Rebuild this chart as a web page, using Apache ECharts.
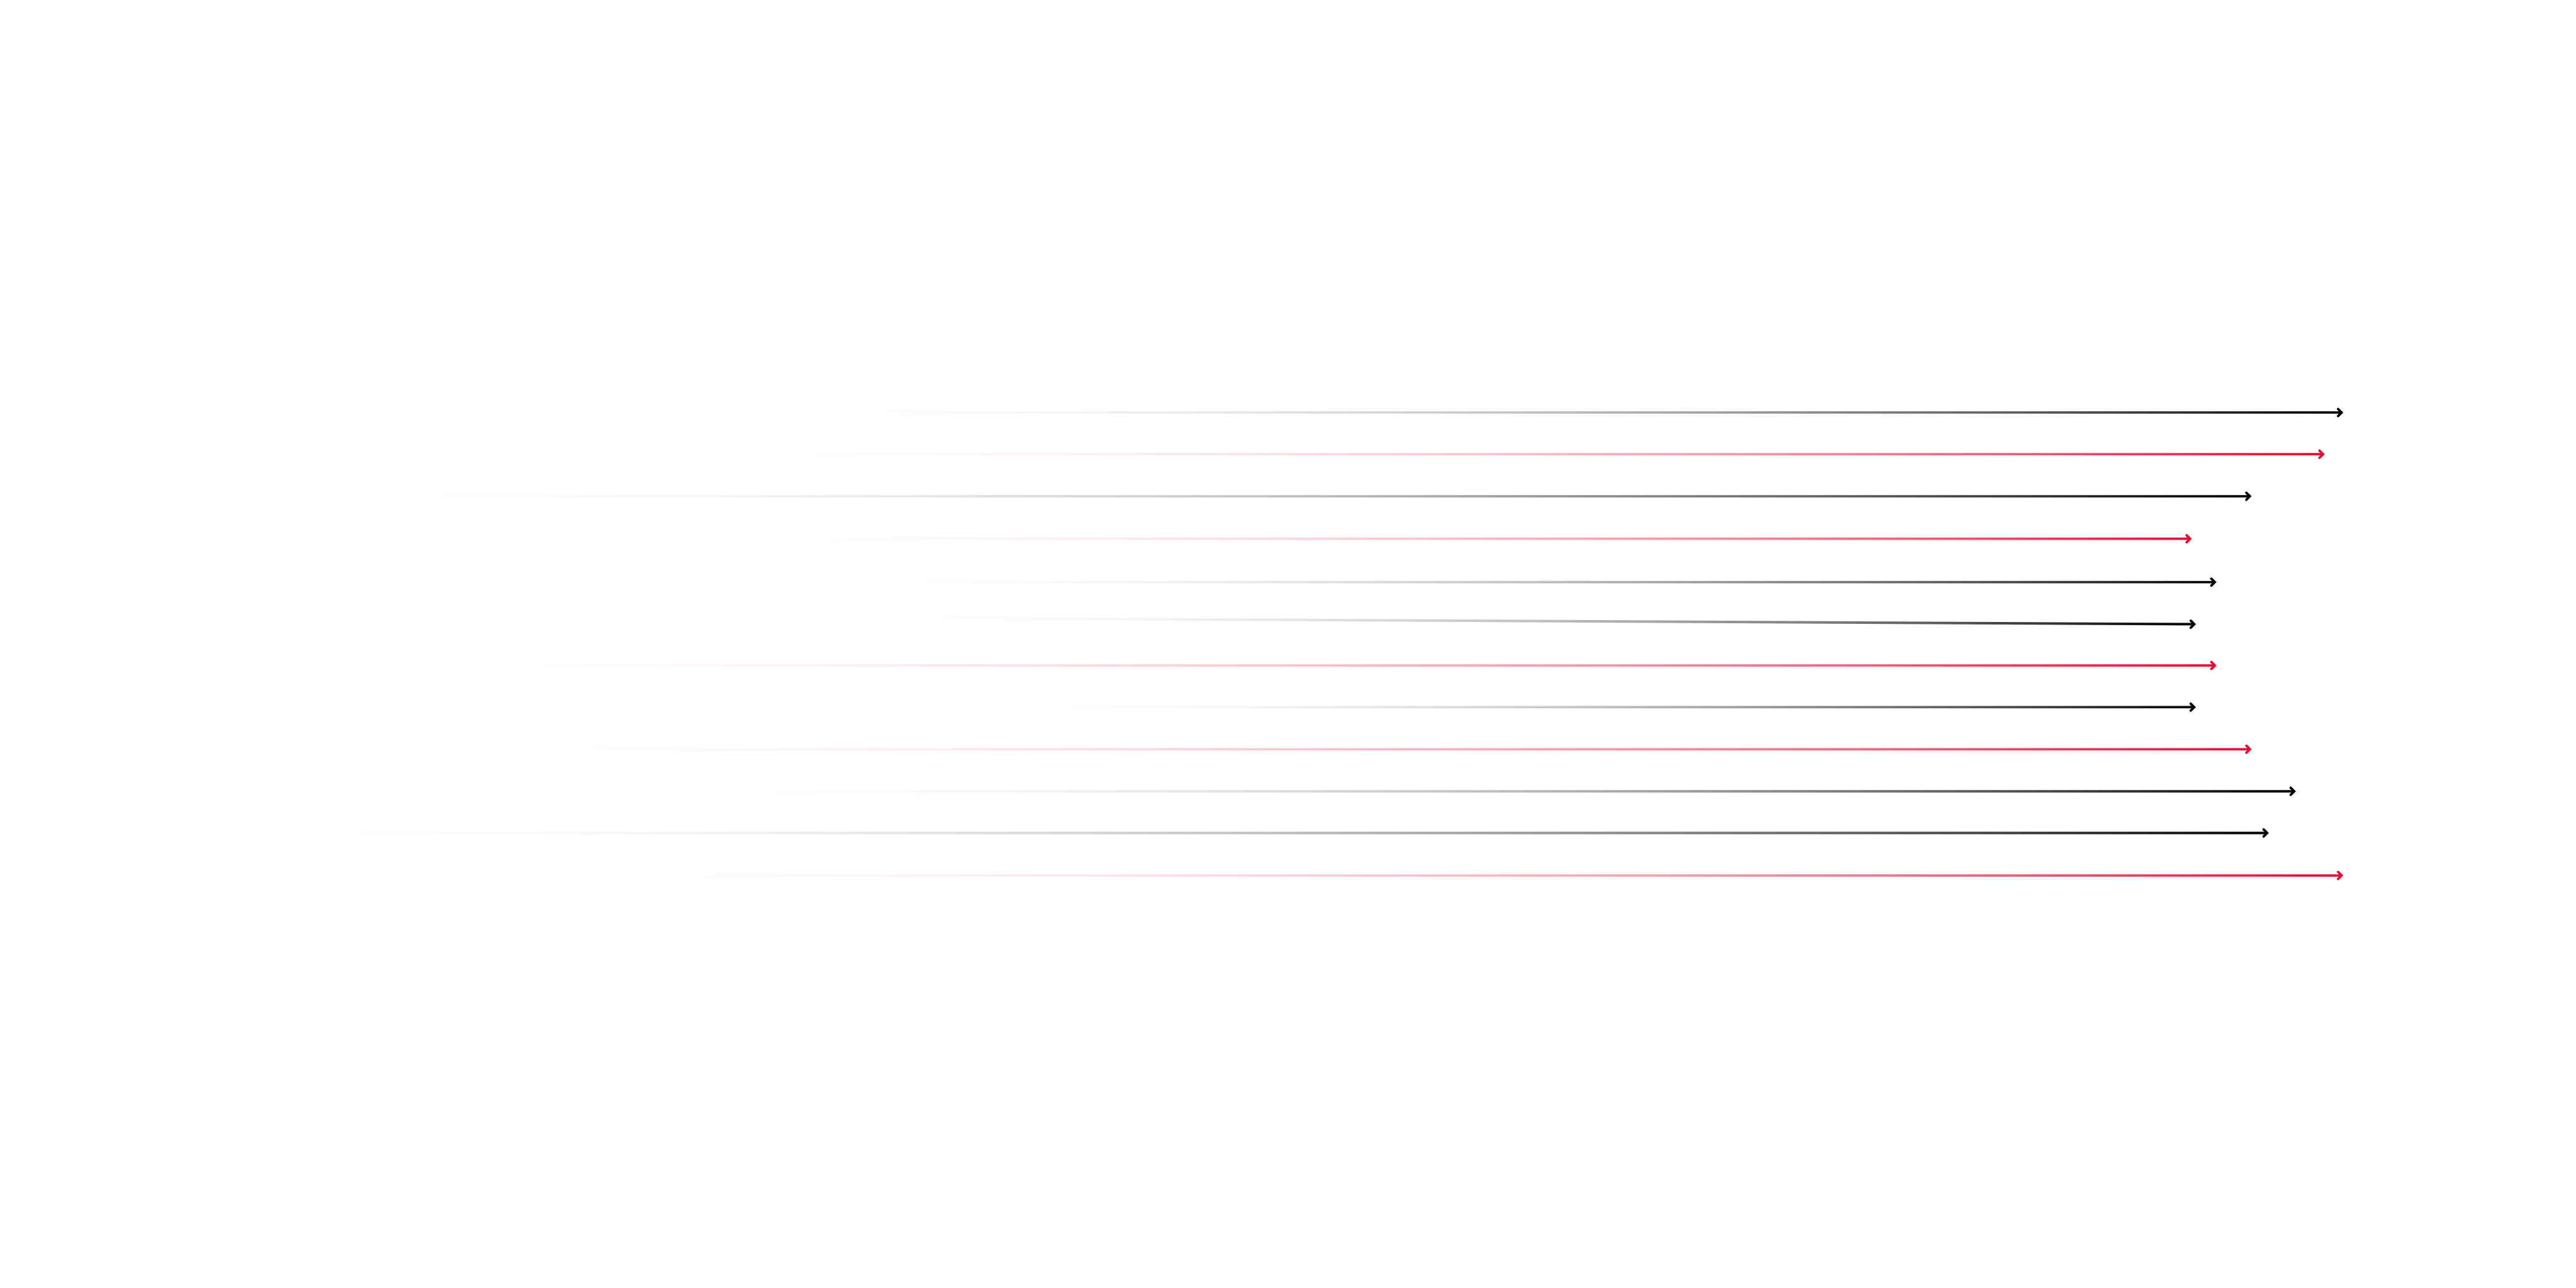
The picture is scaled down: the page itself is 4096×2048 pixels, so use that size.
<!DOCTYPE html>
<html>
<head>
<meta charset="utf-8">
<script src="https://cdn.jsdelivr.net/npm/echarts@6/dist/echarts.min.js"></script>
<style>
html, body { margin: 0; padding: 0; background: #ffffff; }
#chart { width: 4096px; height: 2048px; }
</style>
</head>
<body>
<div id="chart"></div>
<script>
// ---- data ----
// horizontal position of each arrow's tail and head (0–100 scale)
const startX = [29.3, 26.5, 13.5, 26.5, 33.3, 33.8, 15.3, 39.3, 16.0, 27.0, 10.5, 19.7];
const endX   = [90.90, 90.18, 87.34, 85.02, 85.98, 85.18, 85.98, 85.18, 87.34, 89.06, 88.01, 90.90];
// row of each arrow's tail and head (1 = top row)
const startRow = [1.0, 1.99, 2.99, 4.0, 5.03, 5.88, 7.01, 8.0, 9.0, 10.0, 10.99, 12.0];
const endRow   = [1.0, 1.99, 2.99, 4.0, 5.03, 6.03, 7.01, 8.0, 9.0, 10.0, 10.99, 12.0];
// group of each arrow
const kind = ['neutral', 'highlight', 'neutral', 'highlight', 'neutral', 'neutral',
              'highlight', 'neutral', 'highlight', 'neutral', 'neutral', 'highlight'];

// ---- styles ----
const kindColor = { neutral: [0, 0, 0], highlight: [235, 10, 50] };
const LINE_W = 3.85;
const HEAD_LEN = 5.6;
const HEAD_HALF = 5.6;

const seriesData = startX.map((v, i) => [v, startRow[i], endX[i], endRow[i], i]);

function renderItem(params, api) {
  const p0 = api.coord([api.value(0), api.value(1)]);
  const p1 = api.coord([api.value(2), api.value(3)]);
  const rgb = kindColor[kind[api.value(4)]];
  const stops = [0, 0.1, 0.2, 0.3, 0.4, 0.5, 0.6, 0.7, 0.8, 0.9, 1].map(t => ({
    offset: t,
    color: 'rgba(' + rgb[0] + ',' + rgb[1] + ',' + rgb[2] + ',' + (t * t).toFixed(4) + ')'
  }));
  const grad = new echarts.graphic.LinearGradient(p0[0], p0[1], p1[0], p1[1], stops, true);
  const ang = Math.atan2(p1[1] - p0[1], p1[0] - p0[0]);
  const c = Math.cos(ang), s = Math.sin(ang);
  const pt = (u, v) => [p1[0] + u * c - v * s, p1[1] + u * s + v * c];
  const solid = 'rgb(' + rgb.join(',') + ')';
  return {
    type: 'group',
    children: [
      {
        type: 'line',
        shape: { x1: p0[0], y1: p0[1], x2: p1[0], y2: p1[1] },
        style: { stroke: grad, lineWidth: LINE_W, lineCap: 'butt', fill: null }
      },
      {
        type: 'polyline',
        shape: { points: [pt(-HEAD_LEN, -HEAD_HALF), [p1[0], p1[1]], pt(-HEAD_LEN, HEAD_HALF)] },
        style: { stroke: solid, fill: null, lineWidth: LINE_W, lineCap: 'round', lineJoin: 'miter' }
      }
    ]
  };
}

const chart = echarts.init(document.getElementById('chart'), null, { renderer: 'canvas' });
chart.setOption({
  backgroundColor: '#ffffff',
  animation: false,
  grid: { left: 0, right: 0, top: 589, bottom: 589 },
  xAxis: { type: 'value', min: 0, max: 100, show: false },
  yAxis: { type: 'value', min: 0, max: 13, inverse: true, show: false },
  series: [{
    type: 'custom',
    renderItem: renderItem,
    encode: { x: [0, 2], y: [1, 3] },
    data: seriesData,
    silent: true
  }]
});
</script>
</body>
</html>
